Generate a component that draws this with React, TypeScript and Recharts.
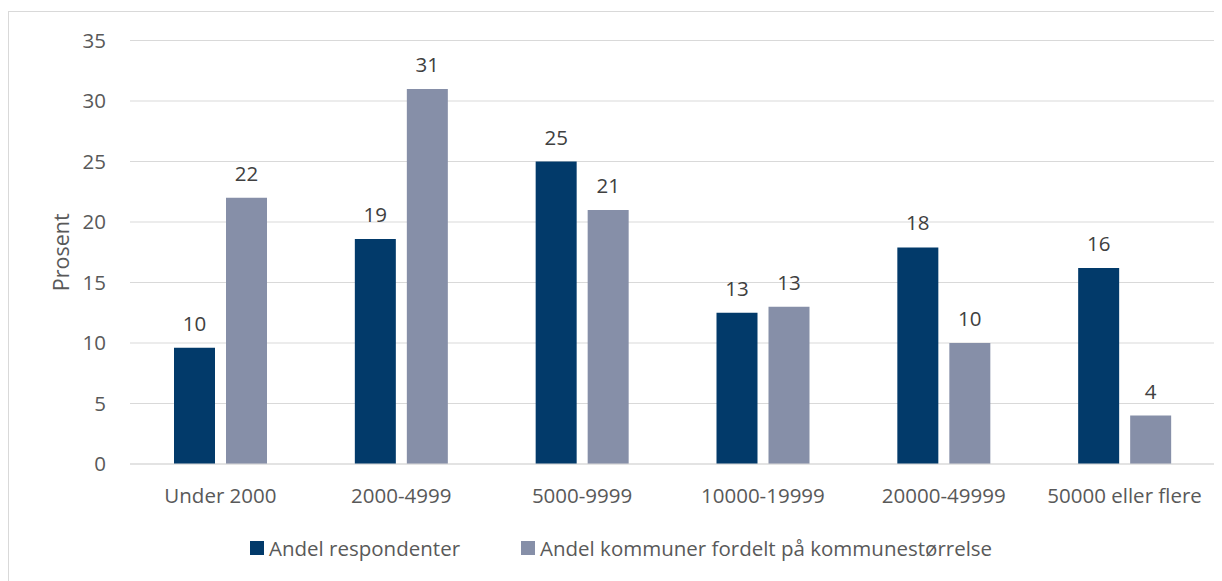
import React from 'react';
import { BarChart, Bar, XAxis, YAxis, CartesianGrid, Legend, LabelList } from 'recharts';

const categories = ['Under 2000', '2000-4999', '5000-9999', '10000-19999', '20000-49999', '50000 eller flere'];
const respondenter = [9.6, 18.6, 25.0, 12.5, 17.9, 16.2];
const kommuner = [22, 31, 21, 13, 10, 4];
const yTicks = [0, 5, 10, 15, 20, 25, 30, 35];

const SERIES = [
  { key: 'respondenter', name: 'Andel respondenter', color: '#023A6A' },
  { key: 'kommuner', name: 'Andel kommuner fordelt på kommunestørrelse', color: '#868FA8' },
];

const FONT = '"Open Sans", sans-serif';
const data = categories.map((c, i) => ({ category: c, respondenter: respondenter[i], kommuner: kommuner[i] }));

const YLabel = (props: any) => {
  const { viewBox } = props;
  const cx = viewBox.x + 52;
  const cy = viewBox.y + viewBox.height / 2;
  return (
    <text x={cx} y={cy} transform={`rotate(-90 ${cx} ${cy})`} textAnchor="middle" dominantBaseline="central"
      fill="#595959" fontSize={21.5} fontFamily={FONT}>
      Prosent
    </text>
  );
};

const LegendContent = () => (
  <div style={{ display: 'flex', alignItems: 'center', height: 30, fontFamily: FONT, fontSize: 20.5, color: '#595959' }}>
    {SERIES.map((s, i) => (
      <div key={s.key} style={{ display: 'flex', alignItems: 'center', marginLeft: i === 0 ? 0 : 61 }}>
        <span style={{ width: 14, height: 14, background: s.color, display: 'inline-block', marginRight: 5 }} />
        <span style={{ whiteSpace: 'nowrap' }}>{s.name}</span>
      </div>
    ))}
  </div>
);

export default function App() {
  return (
    <div style={{ position: 'relative', width: 1214, height: 573, background: '#fff' }}>
      <div style={{ position: 'absolute', left: 0, top: 3, right: 0, bottom: 0, borderLeft: '1px solid #d9d9d9', borderTop: '1px solid #d9d9d9' }} />
      <BarChart width={1214} height={573} data={data} margin={{ top: 32.5, right: 7, left: 0, bottom: 87 }}
        barCategoryGap={44} barGap={11}>
        <CartesianGrid vertical={false} stroke="#d9d9d9" strokeWidth={1.2} />
        <XAxis dataKey="category" tickLine={false} axisLine={{ stroke: '#d9d9d9', strokeWidth: 1.2 }} tickSize={0} tickMargin={24}
          height={30} interval={0} tick={{ fill: '#595959', fontSize: 20.5, fontFamily: FONT }} />
        <YAxis domain={[0, 35]} ticks={yTicks} width={122} tickLine={false} axisLine={false} tickSize={0} tickMargin={24}
          tick={{ fill: '#595959', fontSize: 20.5, fontFamily: FONT }} label={<YLabel />} />
        <Legend verticalAlign="middle" align="center" layout="horizontal" content={<LegendContent />}
          wrapperStyle={{ top: 525, left: 242, width: 'auto' }} />
        {SERIES.map((s) => (
          <Bar key={s.key} dataKey={s.key} name={s.name} fill={s.color} isAnimationActive={false}>
            <LabelList dataKey={s.key} position="top" offset={17} formatter={(v: any) => Math.round(Number(v))}
              fill="#404040" fontSize={20.5} fontFamily={FONT} />
          </Bar>
        ))}
      </BarChart>
    </div>
  );
}
